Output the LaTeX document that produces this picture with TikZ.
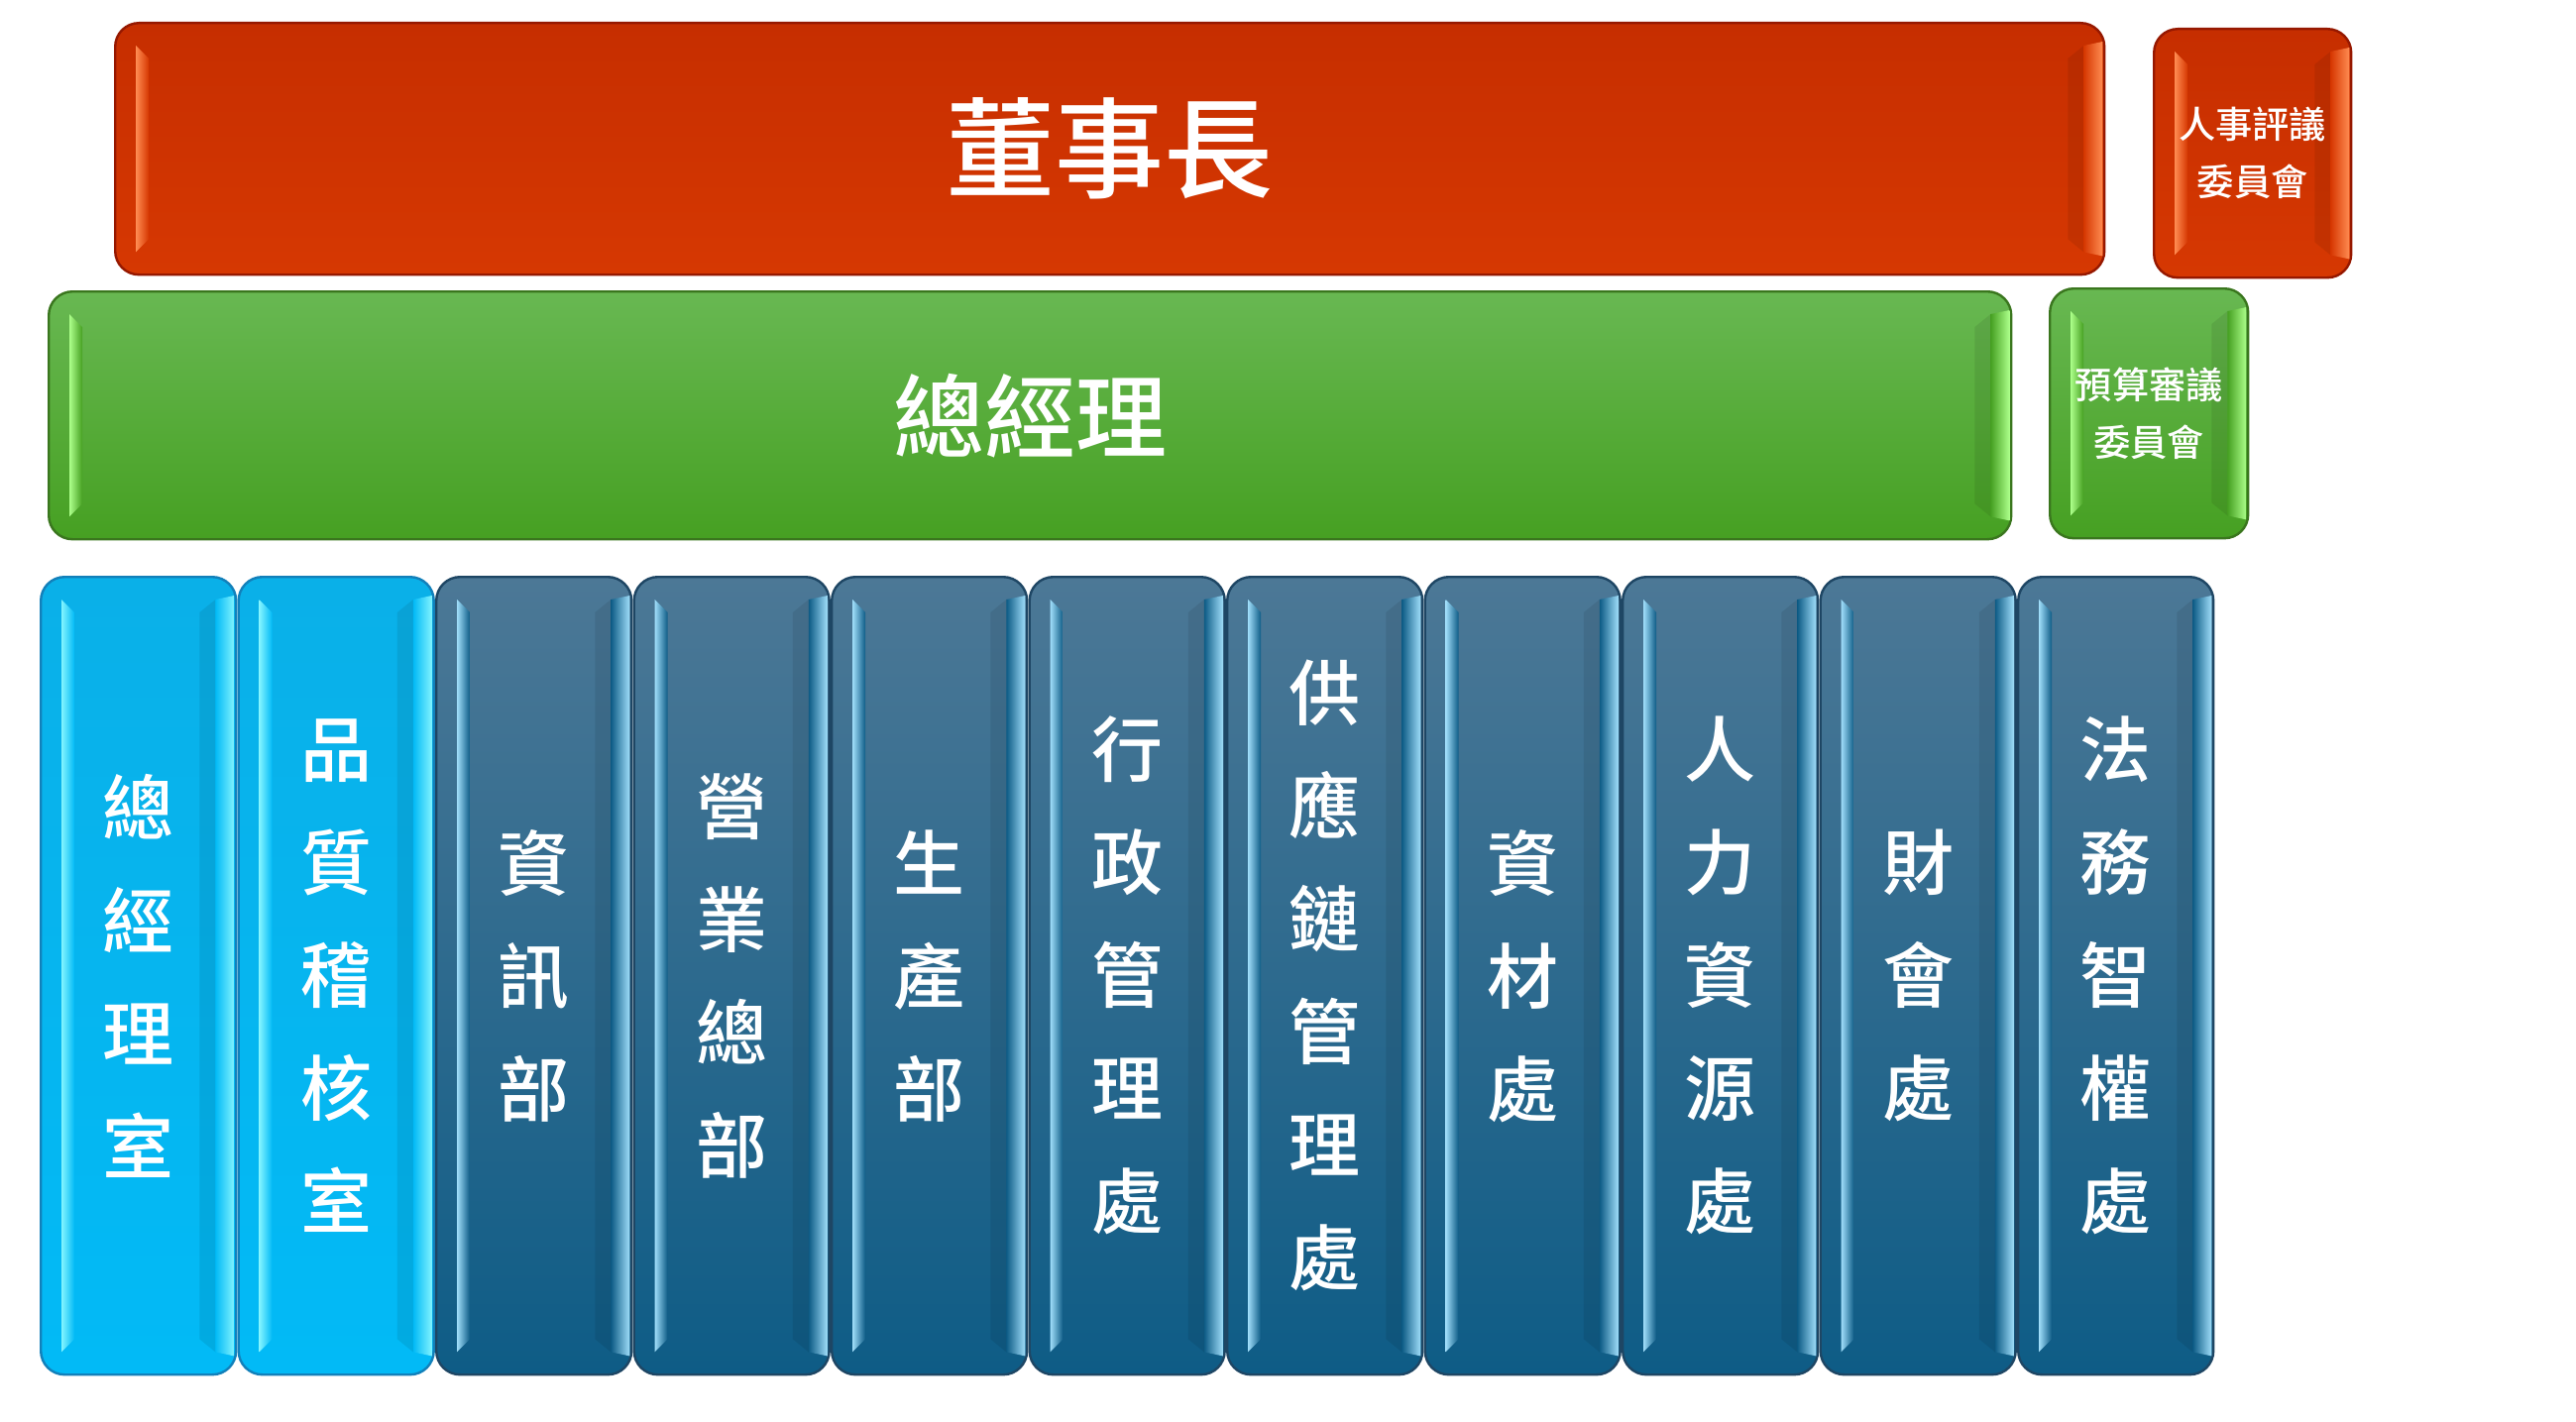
\documentclass[tikz,border=0pt]{standalone}
\usepackage{fontspec}
\newfontfamily\cjk{Noto Sans CJK TC Medium}
\usetikzlibrary{calc}

\definecolor{redtop}{RGB}{198,46,0}
\definecolor{redbot}{RGB}{214,56,2}
\definecolor{redhl}{RGB}{255,140,82}
\definecolor{redln}{RGB}{150,24,0}
\definecolor{grntop}{RGB}{104,184,82}
\definecolor{grnbot}{RGB}{70,160,34}
\definecolor{grnhl}{RGB}{172,255,138}
\definecolor{grnln}{RGB}{58,118,30}
\definecolor{cyntop}{RGB}{10,176,232}
\definecolor{cynbot}{RGB}{2,186,246}
\definecolor{cynhl}{RGB}{130,244,255}
\definecolor{cynln}{RGB}{18,128,186}
\definecolor{blutop}{RGB}{76,120,150}
\definecolor{blubot}{RGB}{14,92,134}
\definecolor{bluhl}{RGB}{160,222,250}
\definecolor{bluln}{RGB}{30,70,100}

\tikzset{
  box/.style={rounded corners=6pt, line width=0.6pt, inner sep=0pt, anchor=north west, text=white},
  redbox/.style={box, draw=redln, top color=redtop, bottom color=redbot},
  grnbox/.style={box, draw=grnln, top color=grntop, bottom color=grnbot},
  cynbox/.style={box, draw=cynln, top color=cyntop, bottom color=cynbot},
  blubox/.style={box, draw=bluln, top color=blutop, bottom color=blubot},
  coltext/.style={align=center, font=\cjk\fontsize{18}{28.5}\selectfont},
  smalltext/.style={align=center, font=\cjk\fontsize{9.3}{14.5}\selectfont}
}

% bevel highlights on a box: node, light colour, base colour
\newcommand\bevel[3]{%
  \shade[left color=#2, right color=#3] ($(#1.north west)+(22,24)$) -- ++(13,13) -- ($(#1.south west)+(35,-37)$) -- ++(-13,13) -- cycle;
  \fill[black,opacity=0.08] ($(#1.north east)+(-22,24)$) -- ++(-16,13) -- ($(#1.south east)+(-38,-37)$) -- ++(16,13) -- cycle;
  \shade[left color=#3, right color=#2] ($(#1.north east)+(-3,20)$) -- ++(-19,4) -- ($(#1.south east)+(-22,-24)$) -- ++(19,4) -- cycle;
}

\begin{document}
\begin{tikzpicture}[x=0.25pt,y=0.25pt,yscale=-1]
\useasboundingbox (0,0) rectangle (2599,1434);

%Shape: top row
\node[redbox, minimum width=501.75pt, minimum height=63.5pt, font=\cjk\fontsize{27.5}{30}\selectfont] (chair) at (115,22) {};
\node[redbox, minimum width=49.75pt, minimum height=62.75pt] (hrc) at (2172,28) {};

%Shape: second row
\node[grnbox, minimum width=495pt, minimum height=62.5pt] (gm) at (48,293) {};
\node[grnbox, minimum width=50pt, minimum height=63pt] (budc) at (2067,290) {};

%Shape: departments
\foreach \i/\s in {1/cynbox, 2/cynbox, 3/blubox, 4/blubox, 5/blubox, 6/blubox,
    7/blubox, 8/blubox, 9/blubox, 10/blubox, 11/blubox}
  \node[\s, minimum width=49.25pt, minimum height=201.25pt] (col\i) at ({40+199.5*(\i-1)},581) {};

%Shape: bevels
\bevel{chair}{redhl}{redbot} \bevel{hrc}{redhl}{redbot}
\bevel{gm}{grnhl}{grnbot} \bevel{budc}{grnhl}{grnbot}
\foreach \i in {1,2} {\bevel{col\i}{cynhl}{cynbot}}
\foreach \i in {3,...,11} {\bevel{col\i}{bluhl}{blubot}}

%Text: boxes
\node[text=white, font=\cjk\fontsize{27.5}{30}\selectfont] (chairlab) at (chair.center) {董事長};
\node[text=white, smalltext] (hrclab) at (hrc.center) {人事評議\\委員會};
\node[text=white, font=\cjk\fontsize{23}{26}\selectfont] (gmlab) at (gm.center) {總經理};
\node[text=white, smalltext] (budclab) at (budc.center) {預算審議\\委員會};

%Text: departments
\foreach \i/\t in {1/{總\\經\\理\\室}, 2/{品\\質\\稽\\核\\室}, 3/{資\\訊\\部},
    4/{營\\業\\總\\部}, 5/{生\\產\\部}, 6/{行\\政\\管\\理\\處},
    7/{供\\應\\鏈\\管\\理\\處}, 8/{資\\材\\處}, 9/{人\\力\\資\\源\\處},
    10/{財\\會\\處}, 11/{法\\務\\智\\權\\處}}
  \node[coltext, text=white] (lab\i) at (col\i.center) {\t};
\end{tikzpicture}
\end{document}
